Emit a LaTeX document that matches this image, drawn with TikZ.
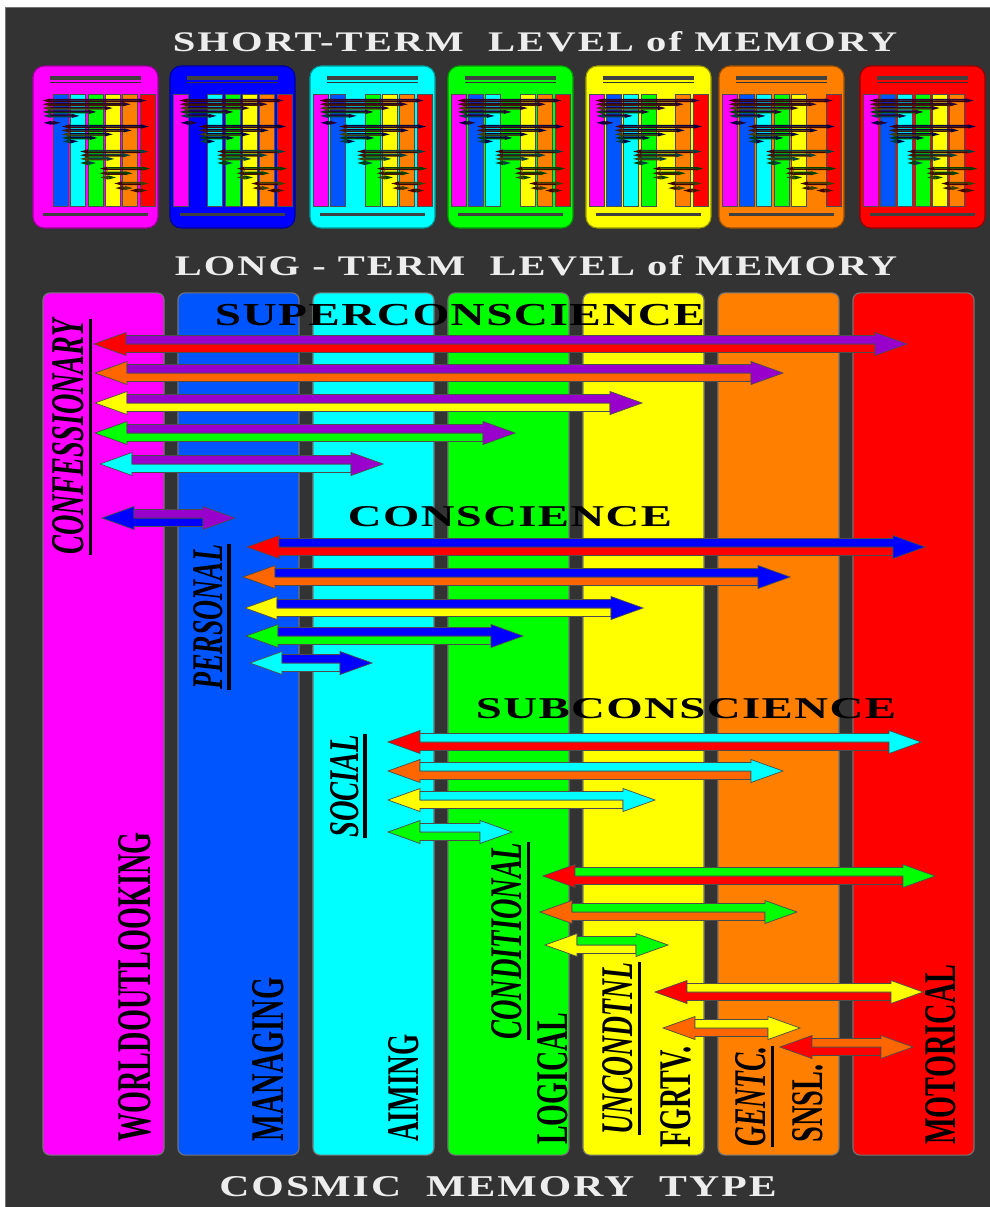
\documentclass[tikz,border=0pt]{standalone}
\usepackage{graphicx}
\usepackage{fontspec}
\setmainfont{Liberation Serif}
\newfontfamily\spacedfont[LetterSpace=5]{Liberation Serif}
\newfontfamily\headfont[LetterSpace=3]{Liberation Serif}

\definecolor{cmag}{HTML}{FF00FF}
\definecolor{cblu}{HTML}{0055FF}
\definecolor{ccya}{HTML}{00FFFF}
\definecolor{cgrn}{HTML}{00FF00}
\definecolor{cyel}{HTML}{FFFF00}
\definecolor{corg}{HTML}{FF8000}
\definecolor{cred}{HTML}{FF0000}
\definecolor{apur}{HTML}{9900CC}
\definecolor{ablu}{HTML}{0000FF}
\definecolor{aorg}{HTML}{FF6600}
\definecolor{bgdark}{HTML}{333333}

\newcommand{\ahh}{11.5}
\newcommand{\ash}{8.5}
\newcommand{\ahl}{32}

\newcommand{\arrowlist}{344/94/907/cred/apur, 373/95/783/aorg/apur, 403/95/642/cyel/apur,
  433/95/515/cgrn/apur, 464/100/383/ccya/apur, 518/102/235/ablu/apur,
  547/247/925/cred/ablu, 577/243/790/aorg/ablu, 608/245/643/cyel/ablu,
  636/246/523/cgrn/ablu, 663/250/372/ccya/ablu,
  742/388/921/cred/ccya, 771/388/783/aorg/ccya, 800/388/655/cyel/ccya, 832/388/512/cgrn/ccya,
  876/543/935/cred/cgrn, 912/540/797/aorg/cgrn, 945/545/668/cyel/cgrn,
  992/655/923/cred/cyel, 1028/663/800/aorg/cyel, 1047/780/913/cred/aorg}

\newcommand{\duoarrow}[5]{%
  \filldraw[duo, fill=#4] ({#3-\ahl},#1) -- ({#2+\ahl},#1) -- ({#2+\ahl},{#1-\ahh}) -- (#2,#1)
    -- ({#2+\ahl},{#1+\ahh}) -- ({#2+\ahl},{#1+\ash}) -- ({#3-\ahl},{#1+\ash}) -- cycle;
  \filldraw[duo, fill=#5] ({#2+\ahl},{#1-\ash}) -- ({#3-\ahl},{#1-\ash}) -- ({#3-\ahl},{#1-\ahh})
    -- (#3,#1) -- ({#3-\ahl},{#1+\ahh}) -- ({#3-\ahl},#1) -- ({#2+\ahl},#1) -- cycle;
}

\begin{document}
\begin{tikzpicture}[x=0.025cm, y=-0.025cm,
  longcol/.style={draw=black!55, line width=0.8pt, rounded corners=5pt, minimum width=3.025cm, minimum height=21.55cm, inner sep=0pt},
  stbox/.style={line width=0.8pt, rounded corners=8pt, minimum width=3.125cm, minimum height=4.05cm, inner sep=0pt},
  duo/.style={draw=black!70, line width=0.5pt},
  vlabel/.style={rotate=90, anchor=base west, inner sep=0pt, font=\bfseries},
  ilabel/.style={rotate=90, anchor=base west, inner sep=0pt, font=\bfseries\itshape},
  ulin/.style={line width=2.2pt, black},
  heading/.style={inner sep=0pt, font=\headfont\bfseries},
  title/.style={inner sep=0pt, text=white!93!black, font=\spacedfont\bfseries}]
\useasboundingbox (0,0) rectangle (990,1207);
\fill[white] (0,0) rectangle (990,1207);
\filldraw[fill=bgdark, draw=black!55] (5,7) rectangle (990,1207);

\foreach \bx/\bc/\own in {33/cmag/1, 170/ablu/2, 310/ccya/3, 448/cgrn/4, 586/cyel/5, 719/corg/6, 860/cred/7} {
  \node[stbox, fill=\bc, draw=\bc!60!black] (st\own) at ({\bx+62.5},147) {};
  \fill[black!75] ({\bx+17},76) rectangle ({\bx+108},80);
  \draw[black!80, line width=0.8pt] ({\bx+17},82.5) -- ({\bx+108},82.5);
  \foreach \mc [count=\j] in {cmag,cblu,ccya,cgrn,cyel,corg,cred} {
    \ifnum\j=\own\relax\else
      \filldraw[fill=\mc, draw=black!70, line width=0.4pt] ({\bx+3+(\j-1)*17.3},94) rectangle ++(15,112);
    \fi
  }
  \begin{scope}[shift={({\bx-2.5},56.5)}, scale=0.128, duo/.style={draw=none}]
    \def\ahh{16}\def\ash{12}\def\ahl{60}
    \foreach \ya/\xl/\xr/\lc/\uc in \arrowlist {
      \duoarrow{\ya}{\xl}{\xr}{\lc!25!black}{\uc!25!black}
    }
  \end{scope}
  \fill[black!75] ({\bx+10},213) rectangle ({\bx+115},216.5);
}

\node[title] (stitle) at (535,42) {\resizebox{18.1cm}{0.5cm}{SHORT-TERM~~LEVEL of MEMORY}};
\node[title] (ltitle) at (536,266) {\resizebox{18.05cm}{0.5cm}{LONG - TERM~~LEVEL of MEMORY}};
\node[title] (ctitle) at (498,1187) {\resizebox{13.93cm}{0.5cm}{COSMIC~~MEMORY~~TYPE}};

\foreach \cc [count=\i] in {cmag,cblu,ccya,cgrn,cyel,corg,cred}
  \node[longcol, fill=\cc] (col\i) at ({103.5+(\i-1)*135},724) {};

\foreach \ya/\xl/\xr/\lc/\uc in \arrowlist {
  \duoarrow{\ya}{\xl}{\xr}{\lc}{\uc}
}

\node[heading] (super) at (460,315) {\resizebox{12.25cm}{0.53cm}{SUPERCONSCIENCE}};
\node[heading] (consc) at (510,517) {\resizebox{8.1cm}{0.5cm}{CONSCIENCE}};
\node[heading] (subc) at (686,709) {\resizebox{10.5cm}{0.5cm}{SUBCONSCIENCE}};

\node[vlabel] (wol) at (150,1142) {\resizebox{7.725cm}{0.8cm}{WORLDOUTLOOKING}};
\node[vlabel] (man) at (283,1142) {\resizebox{4.1cm}{0.775cm}{MANAGING}};
\node[vlabel] (aim) at (418,1142) {\resizebox{2.675cm}{0.75cm}{AIMING}};
\node[vlabel] (log) at (567,1145) {\resizebox{3.3cm}{0.75cm}{LOGICAL}};
\node[vlabel] (fgr) at (690,1148) {\resizebox{2.525cm}{0.75cm}{FGRTV.}};
\node[vlabel] (sns) at (822,1143) {\resizebox{1.95cm}{0.75cm}{SNSL.}};
\node[vlabel] (mot) at (955,1145) {\resizebox{4.5cm}{0.75cm}{MOTORICAL}};

\node[ilabel] (conf) at (83,555) {\resizebox{5.875cm}{0.775cm}{CONFESSIONARY}};
\node[ilabel] (pers) at (222,690) {\resizebox{3.625cm}{0.725cm}{PERSONAL}};
\node[ilabel] (soc) at (358,838) {\resizebox{2.575cm}{0.7cm}{SOCIAL}};
\node[ilabel] (cond) at (521,1040) {\resizebox{4.925cm}{0.75cm}{CONDITIONAL}};
\node[ilabel] (unc) at (632,1135) {\resizebox{4.3cm}{0.75cm}{UNCONDTNL}};
\node[ilabel] (gen) at (765,1147) {\resizebox{2.5cm}{0.75cm}{GENTC.}};

\foreach \n in {conf,pers,soc,cond,unc,gen}
  \draw[ulin] ([xshift=4.5pt]\n.south west) -- ([xshift=4.5pt]\n.south east);
\end{tikzpicture}
\end{document}
